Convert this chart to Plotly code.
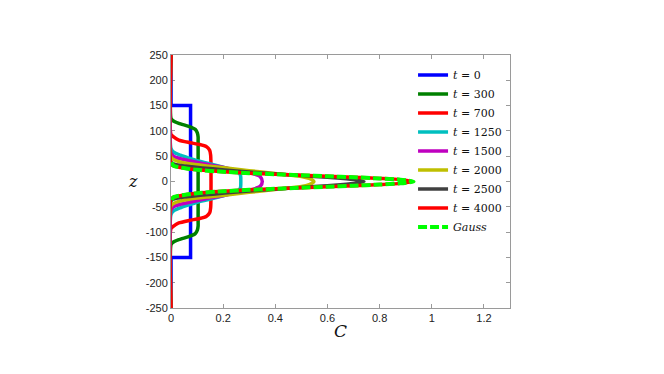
import plotly.graph_objects as go

# concentration profiles C(z)
Z_T0 = [250, 150, 150, -150, -150, -250]
C_T0 = [0, 0, 0.075, 0.075, 0, 0]

Z_T300 = [250, 125, 121, 115, 109, 103, 96, 88, 80, -80, -88, -96, -103, -109, -115, -121, -125, -250]
C_T300 = [0, 0, 0.006, 0.03, 0.068, 0.093, 0.101, 0.104, 0.104, 0.104, 0.104, 0.101, 0.093, 0.068, 0.03, 0.006, 0, -0]

Z_T700 = [250, 93, 88, 82, 77, 73, 69, 62, 52, -52, -62, -69, -73, -77, -82, -88, -93, -250]
C_T700 = [0, 0, 0.01, 0.03, 0.07, 0.11, 0.135, 0.148, 0.152, 0.152, 0.148, 0.135, 0.11, 0.07, 0.03, 0.01, 0, 0]

Z_T1250 = [250, 65, 58, 52, 46, 41, 36, 31, 26, 21, 15, 11, -11, -15, -21, -26, -31, -36, -41, -46, -52, -58, -65, -250]
C_T1250 = [0, 0, 0.01, 0.036, 0.07, 0.1, 0.14, 0.178, 0.215, 0.25, 0.264, 0.267,
           0.267, 0.264, 0.25, 0.215, 0.178, 0.14, 0.1, 0.07, 0.036, 0.01, 0, 0]

Z_T1500 = [250, 56, 50, 45, 40, 35, 30, 25, 20, 15, 9, 0, -9, -15, -20, -25, -30, -35, -40, -45, -50, -56, -250]
C_T1500 = [0, 0, 0.01, 0.036, 0.08, 0.125, 0.178, 0.228, 0.275, 0.317, 0.343, 0.35,
           0.343, 0.317, 0.275, 0.228, 0.178, 0.125, 0.08, 0.036, 0.01, 0, 0]

Z_T2000 = [250, 48, 41, 35, 30, 26, 21.5, 17, 13, 10, 6, 2, 0, -2, -6, -10, -13, -17, -21.5, -26, -30, -35, -41, -48, -250]
C_T2000 = [0, 0, 0.02, 0.07, 0.15, 0.22, 0.3, 0.38, 0.45, 0.5, 0.53, 0.545, 0.548,
           0.545, 0.53, 0.5, 0.45, 0.38, 0.3, 0.22, 0.15, 0.07, 0.02, 0, 0]

Z_T2500 = [250, 38, 33, 29, 25, 21, 17, 13.5, 10, 6.5, 3.5, 0, -3.5, -6.5, -10, -13.5, -17, -21, -25, -29, -33, -38, -250]
C_T2500 = [0, 0, 0.02, 0.08, 0.16, 0.25, 0.35, 0.45, 0.55, 0.65, 0.71, 0.74,
           0.71, 0.65, 0.55, 0.45, 0.35, 0.25, 0.16, 0.08, 0.02, 0, 0]

Z_T4000 = [250, 34, 31, 26.5, 23, 19.3, 16.5, 14.3, 12.3, 10.3, 8.3, 6, 3.7, 0,
           -3.7, -6, -8.3, -10.3, -12.3, -14.3, -16.5, -19.3, -23, -26.5, -31, -34, -250]
C_T4000 = [0, 0, 0.01, 0.05, 0.1, 0.2, 0.3, 0.4, 0.5, 0.6, 0.7, 0.8, 0.88, 0.93,
           0.88, 0.8, 0.7, 0.6, 0.5, 0.4, 0.3, 0.2, 0.1, 0.05, 0.01, 0, 0]

Z_GAUSS = [38, 31, 26.5, 23, 19.3, 16.5, 14.3, 12.3, 10.3, 8.3, 6, 3.7, 0,
           -3.7, -6, -8.3, -10.3, -12.3, -14.3, -16.5, -19.3, -23, -26.5, -31, -38]
C_GAUSS = [0.002, 0.01, 0.05, 0.1, 0.2, 0.3, 0.4, 0.5, 0.6, 0.7, 0.8, 0.88, 0.93,
           0.88, 0.8, 0.7, 0.6, 0.5, 0.4, 0.3, 0.2, 0.1, 0.05, 0.01, 0.002]

Y_TICKS = [250, 200, 150, 100, 50, 0, -50, -100, -150, -200, -250]
Y_LABELS = ["250", "200", "150", "100", "50", "0", "-50", "-100", "-150", "-200", "-250"]
X_TICKS = [0, 0.2, 0.4, 0.6, 0.8, 1, 1.2]
X_LABELS = ["0", "0.2", "0.4", "0.6", "0.8", "1", "1.2"]

SERIES = [
    ("<i>t</i> = 0", C_T0, Z_T0, "#0000ff", "linear"),
    ("<i>t</i> = 300", C_T300, Z_T300, "#008000", "spline"),
    ("<i>t</i> = 700", C_T700, Z_T700, "#ff0000", "spline"),
    ("<i>t</i> = 1250", C_T1250, Z_T1250, "#00bfbf", "spline"),
    ("<i>t</i> = 1500", C_T1500, Z_T1500, "#bf00bf", "spline"),
    ("<i>t</i> = 2000", C_T2000, Z_T2000, "#bfbf00", "spline"),
    ("<i>t</i> = 2500", C_T2500, Z_T2500, "#404040", "spline"),
    ("<i>t</i> = 4000", C_T4000, Z_T4000, "#ff0000", "spline"),
]

AXIS_COLOR = "#9a9a9a"
SERIF = "DejaVu Serif, Liberation Serif, serif"

fig = go.Figure()
for name, c, z, color, shape in SERIES:
    fig.add_trace(go.Scatter(
        x=c, y=z, name=name, mode="lines",
        line=dict(color=color, width=3.5, shape=shape, smoothing=0.6),
    ))
fig.add_trace(go.Scatter(
    x=C_GAUSS, y=Z_GAUSS, name="<i>Gauss</i>", mode="lines",
    line=dict(color="#00ff00", width=4, dash="9px,3px", shape="spline", smoothing=0.6),
))

axis_common = dict(
    showgrid=False, zeroline=False, showline=True, linecolor=AXIS_COLOR, linewidth=1,
    mirror="ticks", ticks="inside", ticklen=4, tickcolor=AXIS_COLOR, layer="below traces",
    tickfont=dict(family="Liberation Sans, Arial, sans-serif", size=11, color="#222222"),
)

# the page body adds an 8px offset, so margins are shifted to compensate
fig.update_layout(
    width=664, height=374,
    paper_bgcolor="white", plot_bgcolor="white",
    margin=dict(l=163, r=162, t=47, b=74),
    xaxis=dict(range=[0, 1.3], tickvals=X_TICKS, ticktext=X_LABELS, **axis_common),
    yaxis=dict(range=[-250, 250], tickvals=Y_TICKS, ticktext=Y_LABELS, **axis_common),
    showlegend=True,
    legend=dict(
        x=0.714, y=0.978, xanchor="left", yanchor="top",
        bgcolor="rgba(0,0,0,0)", borderwidth=0,
        font=dict(family=SERIF, size=11, color="#111111"),
        itemwidth=30,
    ),
    annotations=[
        dict(text="<i>z</i>", xref="paper", yref="paper", x=-0.112, y=0.5,
             xanchor="center", yanchor="middle", showarrow=False,
             font=dict(family=SERIF, size=16, color="#111111")),
        dict(text="<i>C</i>", xref="paper", yref="paper", x=0.5, y=-0.09,
             xanchor="center", yanchor="middle", showarrow=False,
             font=dict(family=SERIF, size=17, color="#111111")),
    ],
)

fig.write_html("out.html")
